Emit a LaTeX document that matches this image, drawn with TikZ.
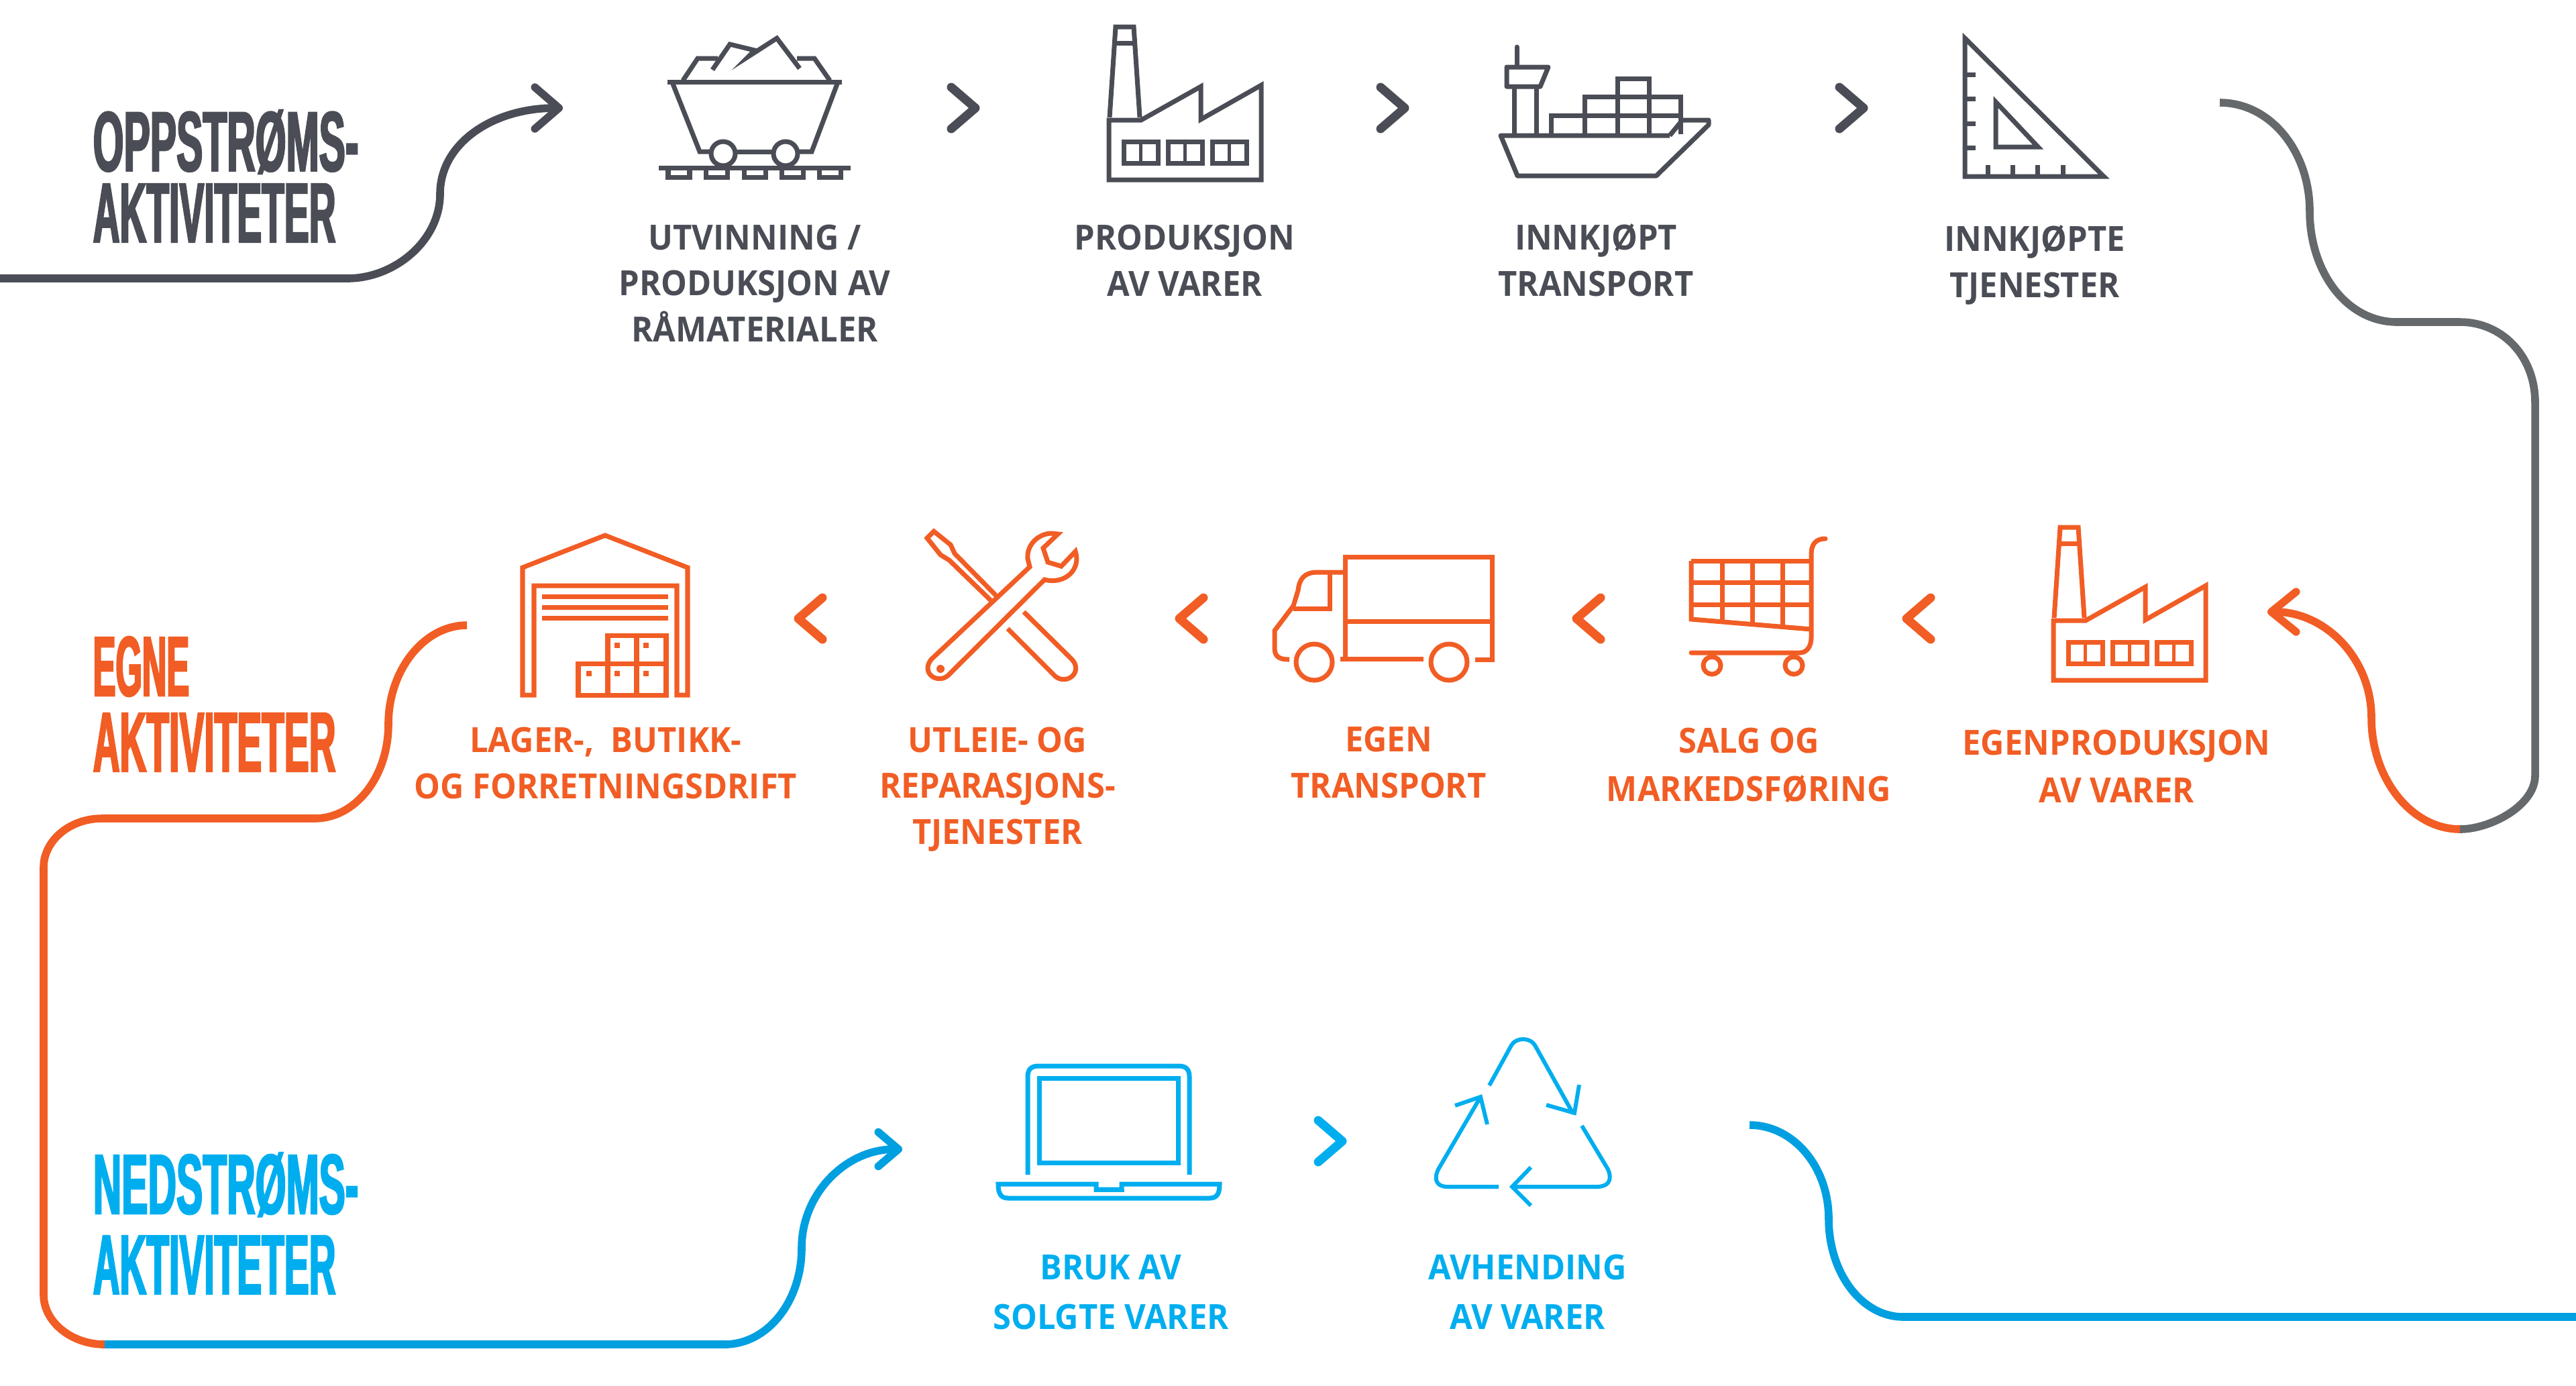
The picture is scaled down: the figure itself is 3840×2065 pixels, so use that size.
\documentclass[tikz,border=0pt]{standalone}
\usepackage{fontspec}
\usepackage{tikz}
\usetikzlibrary{arrows.meta}
\setmainfont{Open Sans}
\newfontfamily\headfont{Liberation Sans}[FakeStretch=0.465,FakeBold=1.8]
\newfontfamily\headnarrow{Liberation Sans}[FakeStretch=0.436,FakeBold=1.8]
\newfontfamily\headegne{Liberation Sans}[FakeStretch=0.4,FakeBold=1.8]
\newfontfamily\lblfont{Open Sans}[FakeStretch=0.945]
\definecolor{darkc}{HTML}{4A4D55}
\definecolor{greyc}{HTML}{65696B}
\definecolor{orangec}{HTML}{F15D24}
\definecolor{bluec}{HTML}{00AEEF}
\definecolor{flowblue}{HTML}{009FE0}
\tikzset{
  lbl/.style={font=\lblfont\bfseries\fontsize{14.7}{#1}\selectfont,align=center,inner sep=0pt,anchor=base},
  lbl/.default=19.35pt,
  head/.style={font=\headfont\bfseries\fontsize{36}{#1}\selectfont,align=left,inner sep=0pt,anchor=base west},
  flow/.style={line width=3.3pt},
  chev/.style={line width=3.7pt,line cap=round,line join=round},
  icon/.style={line width=2pt,line join=miter},
  thinicon/.style={line width=1.7pt,line join=miter},
  factory/.pic={
    \draw[icon] (0,140) -- (0,229) -- (227,229) -- (227,88) -- (137,139) -- (137,90) -- (48,140) -- cycle;
    \draw[icon] (1,136) -- (10,1) -- (37,1) -- (46,136);
    \draw[icon] (9,25) -- (38,25);
    \foreach \w in {22,88,154}{
      \draw[icon] (\w,172) rectangle ++(51,32);
      \draw[icon,line width=1.5pt] (\w+25.5,172) -- ++(0,32);
    }
  }
}
\begin{document}
\begin{tikzpicture}[x=0.01cm,y=-0.01cm]
\useasboundingbox (0,0) rectangle (3840,2065);

\node[head=30.2pt,darkc] (oppstrom) at (138,361) {OPPSTRØMS-\\{\headnarrow\bfseries AKTIVITETER}};
\node[head=32.1pt,orangec] (egne) at (138,1150) {{\headegne\bfseries EGNE}\\{\headnarrow\bfseries AKTIVITETER}};
\node[head=34.1pt,bluec] (nedstrom) at (138,1929) {NEDSTRØMS-\\{\headnarrow\bfseries AKTIVITETER}};

\node[lbl,darkc] (utvinning) at (1125,509) {UTVINNING /\\PRODUKSJON AV\\RÅMATERIALER};
\node[lbl,darkc] (produksjon) at (1766,441) {PRODUKSJON\\AV VARER};
\node[lbl,darkc] (inntransport) at (2379,441) {INNKJØPT\\TRANSPORT};
\node[lbl,darkc] (inntjeneste) at (3033,443) {INNKJØPTE\\TJENESTER};

\node[lbl,orangec] (lager) at (903,1190) {LAGER-,\ \ BUTIKK-\\OG FORRETNINGSDRIFT};
\node[lbl,orangec] (utleie) at (1487,1258) {UTLEIE- OG\\REPARASJONS-\\TJENESTER};
\node[lbl,orangec] (egentransport) at (2070,1189) {EGEN\\TRANSPORT};
\node[lbl=20.2pt,orangec] (salg) at (2607,1194) {SALG OG\\MARKEDSFØRING};
\node[lbl=20.2pt,orangec] (egenprod) at (3155,1196) {EGENPRODUKSJON\\AV VARER};

\node[lbl=20.8pt,bluec] (bruk) at (1656,1981) {BRUK AV\\SOLGTE VARER};
\node[lbl=20.8pt,bluec] (avhending) at (2277,1981) {AVHENDING\\AV VARER};

\coordinate (oppa) at (0,415);
\coordinate (oppb) at (518,415);
\coordinate (oppc) at (656,289);
\coordinate (oppd) at (839,161);
\coordinate (graya) at (3309,153);
\coordinate (grayb) at (3443,315);
\coordinate (grayc) at (3573,480);
\coordinate (grayd) at (3667,480);
\coordinate (graye) at (3779,600);
\coordinate (grayf) at (3779,1156);
\coordinate (skift) at (3667,1236);
\coordinate (egb) at (3535,1070);
\coordinate (egc) at (3380,912);
\coordinate (orga) at (696,932);
\coordinate (orgb) at (579,1079);
\coordinate (orgc) at (469,1220);
\coordinate (orgd) at (152,1220);
\coordinate (orge) at (65,1293);
\coordinate (orgf) at (65,1930);
\coordinate (overgang) at (156,2004);
\coordinate (nedb) at (1080,2004);
\coordinate (nedc) at (1195,1860);
\coordinate (nedd) at (1345,1713);
\coordinate (utb) at (2608,1677);
\coordinate (utc) at (2726,1817);
\coordinate (utd) at (2837,1963);
\coordinate (ute) at (3840,1963);

\draw[flow,darkc,-{Straight Barb[length=10.2pt,width=17.6pt,round]}] (oppa) -- (oppb)
  .. controls +(70,0) and +(0,70) .. (oppc) .. controls +(0,-75) and +(-105,0) .. (oppd);
\draw[flow,greyc] (graya) .. controls +(75,0) and +(0,-90) .. (grayb)
  .. controls +(0,90) and +(-75,0) .. (grayc) -- (grayd)
  .. controls +(62,0) and +(0,-70) .. (graye) -- (grayf)
  .. controls +(0,45) and +(45,0) .. (skift);
\draw[flow,orangec,-{Straight Barb[length=10.5pt,width=17pt,round]}] (skift)
  .. controls +(-72,0) and +(0,91) .. (egb) .. controls +(0,-90) and +(85,0) .. (egc);
\draw[flow,orangec] (orga) .. controls +(-64,0) and +(0,-80) .. (orgb)
  .. controls +(0,80) and +(60,0) .. (orgc) -- (orgd)
  .. controls +(-48,0) and +(0,-40) .. (orge) -- (orgf)
  .. controls +(0,40) and +(-50,0) .. (overgang);
\draw[flow,flowblue,-{Straight Barb[length=8.5pt,width=14.5pt,round]}] (overgang) -- (nedb)
  .. controls +(64,0) and +(0,80) .. (nedc) .. controls +(0,-80) and +(-85,0) .. (nedd);
\draw[flow,flowblue] (utb) .. controls +(65,0) and +(0,-78) .. (utc)
  .. controls +(0,80) and +(-62,0) .. (utd) -- (ute);

\foreach \x/\y/\d/\c in {1436/161/1/darkc,2076/161/1/darkc,2760/161/1/darkc,
    1208/922/-1/orangec,1776/922/-1/orangec,2368/922/-1/orangec,2860/922/-1/orangec,
    1983/1701/1/bluec}{
  \draw[chev,\c] ({\x-18*\d},\y-31) -- ({\x+18*\d},\y) -- ({\x-18*\d},\y+31);
}

\begin{scope}[color=darkc]
  \draw[icon] (995,122) -- (1255,122);
  \draw[icon] (1003,125) -- (1043,226) -- (1062,226);
  \draw[icon] (1094,226) -- (1156,226);
  \draw[icon] (1189,226) -- (1210,226) -- (1248,125);
  \draw[icon] (1078,229) circle[radius=18];
  \draw[icon] (1171,229) circle[radius=18];
  \draw[icon] (982,250) -- (1268,250);
  \foreach \s in {996,1052,1109,1165,1221}{
    \draw[icon] (\s,250) -- (\s,264) -- (\s+32,264) -- (\s+32,250);
  }
  \draw[icon] (1018,120) -- (1040,87) -- (1070,87);
  \draw[icon] (1062,104) -- (1088,66) -- (1125,75) -- (1116,84) -- (1158,57) -- (1192,102);
  \draw[icon] (1188,87) -- (1214,87) -- (1237,120);
\end{scope}

\pic[color=darkc] (fabrikk) at (1653,39) {factory};

\begin{scope}[color=darkc]
  \draw[icon,line join=round] (2489,202) -- (2237,202) -- (2262,262) -- (2469,262) -- (2547,186) -- (2547,179) -- (2507,179);
  \draw[icon] (2507,180) -- (2489,202);
  \draw[icon] (2257,202) -- (2257,129);
  \draw[icon] (2290,202) -- (2290,129);
  \draw[icon,line join=round] (2246,129) -- (2246,100) -- (2308,100) -- (2296,129) -- cycle;
  \draw[icon,line cap=round] (2261,70) -- (2261,98);
  \draw[icon] (2312,200) -- (2312,172) -- (2505,172);
  \draw[icon] (2362,200) -- (2362,144) -- (2505,144) -- (2505,200);
  \draw[icon] (2411,200) -- (2411,117) -- (2458,117) -- (2458,200);
\end{scope}

\begin{scope}[color=darkc]
  \draw[icon] (2929,57) -- (2929,263) -- (3136,263) -- cycle;
  \draw[icon] (2975,152) -- (2975,219) -- (3038,219) -- cycle;
  \foreach \t in {111,147,184,220}{
    \draw[icon] (2929,\t) -- (2945,\t);
  }
  \foreach \t in {2963,3000,3037,3075}{
    \draw[icon] (\t,263) -- (\t,246);
  }
\end{scope}

\begin{scope}[color=orangec]
  \draw[icon] (796,1036) -- (779,1036) -- (779,846) -- (902,798) -- (1025,846) -- (1025,1036) -- (1009,1036) -- (1009,873) -- (796,873) -- cycle;
  \foreach \t in {889,905,921}{
    \draw[icon] (808,\t) -- (996,\t);
  }
  \draw[icon] (862,989) rectangle (993,1036);
  \draw[icon] (906,947) rectangle (993,989);
  \draw[icon] (906,989) -- (906,1036);
  \draw[icon] (949,947) -- (949,1036);
  \foreach \p/\q in {878/1004,920/1004,963/1004,920/962,963/962}{
    \fill (\p-4,\q-4) rectangle (\p+4,\q+4);
  }
\end{scope}

\begin{scope}[color=orangec]
  \draw[icon] (1388,983) -- (1535,845) -- (1532,833) .. controls (1530,812) and (1548,795) .. (1568,795) -- (1577,796) -- (1555,817) -- (1562,838) -- (1582,844) -- (1603,822) .. controls (1612,848) and (1588,872) .. (1557,864) -- (1413,1007) .. controls (1398,1020) and (1372,1004) .. (1388,983) -- cycle;
  \fill (1402,997) circle[radius=6];
  \draw[icon] (1477,895) -- (1415,835) -- (1402,827) -- (1382,802) -- (1392,792) -- (1417,812) -- (1423,825) -- (1485,888);
  \draw[icon] (1502,937) -- (1573,1008) .. controls (1590,1022) and (1615,1002) .. (1598,983) -- (1526,912);
\end{scope}

\begin{scope}[color=orangec]
  \draw[icon] (2199,983) -- (2224,983) -- (2224,830) -- (2005,830) -- (2005,982) -- (2122,982);
  \draw[icon] (2005,926) -- (2224,926);
  \draw[icon] (2005,853) -- (1964,853) .. controls (1945,853) and (1937,862) .. (1935,880) -- (1928,903) -- (1900,940) -- (1900,965) .. controls (1900,977) and (1904,983) .. (1922,983);
  \draw[icon] (1982,855) -- (1982,907) -- (1928,907);
  \draw[icon] (1998,982) -- (2005,982);
  \draw[icon] (1959,987) circle[radius=27];
  \draw[icon] (2160,987) circle[radius=27];
\end{scope}

\begin{scope}[color=orangec]
  \draw[icon] (2521,836) -- (2700,836);
  \draw[icon] (2521,868) -- (2700,868);
  \draw[icon] (2521,901) -- (2700,901);
  \draw[icon] (2521,836) -- (2521,923) -- (2700,938);
  \foreach \g/\h in {2567/927,2612/931,2657/934}{
    \draw[icon] (\g,836) -- (\g,\h);
  }
  \draw[icon,line cap=round] (2721,803) .. controls (2706,803) and (2700,812) .. (2700,826) -- (2700,950) .. controls (2700,964) and (2693,973) .. (2683,973) -- (2521,973);
  \draw[icon] (2552,992) circle[radius=13];
  \draw[icon] (2674,992) circle[radius=13];
\end{scope}

\pic[color=orangec] (egenfabrikk) at (3061,785) {factory};

\begin{scope}[color=bluec]
  \draw[icon] (1532,1751) -- (1532,1605) .. controls (1532,1594) and (1537,1589) .. (1548,1589) -- (1757,1589) .. controls (1768,1589) and (1773,1594) .. (1773,1605) -- (1773,1751);
  \draw[icon] (1549,1607) rectangle (1756,1733);
  \draw[icon] (1488,1765) -- (1634,1765) -- (1634,1773) -- (1672,1773) -- (1672,1765) -- (1818,1765) .. controls (1818,1778) and (1815,1786) .. (1803,1786) -- (1503,1786) .. controls (1491,1786) and (1488,1778) .. (1488,1765) -- cycle;
  \fill (1631,1773) rectangle (1676,1777);
\end{scope}

\begin{scope}[color=bluec]
  \draw[thinicon] (2220,1618) -- (2253,1558) .. controls (2260,1546) and (2281,1546) .. (2288,1558) -- (2345,1660);
  \draw[thinicon] (2354,1617) -- (2347,1659) -- (2305,1647);
  \draw[thinicon] (2358,1678) -- (2397,1743) .. controls (2404,1760) and (2397,1769) .. (2380,1769) -- (2253,1769);
  \draw[thinicon] (2282,1740) -- (2254,1769) -- (2282,1797);
  \draw[thinicon] (2234,1769) -- (2158,1769) .. controls (2143,1769) and (2136,1760) .. (2144,1743) -- (2207,1635);
  \draw[thinicon] (2169,1648) -- (2207,1635) -- (2217,1676);
\end{scope}
\end{tikzpicture}
\end{document}
